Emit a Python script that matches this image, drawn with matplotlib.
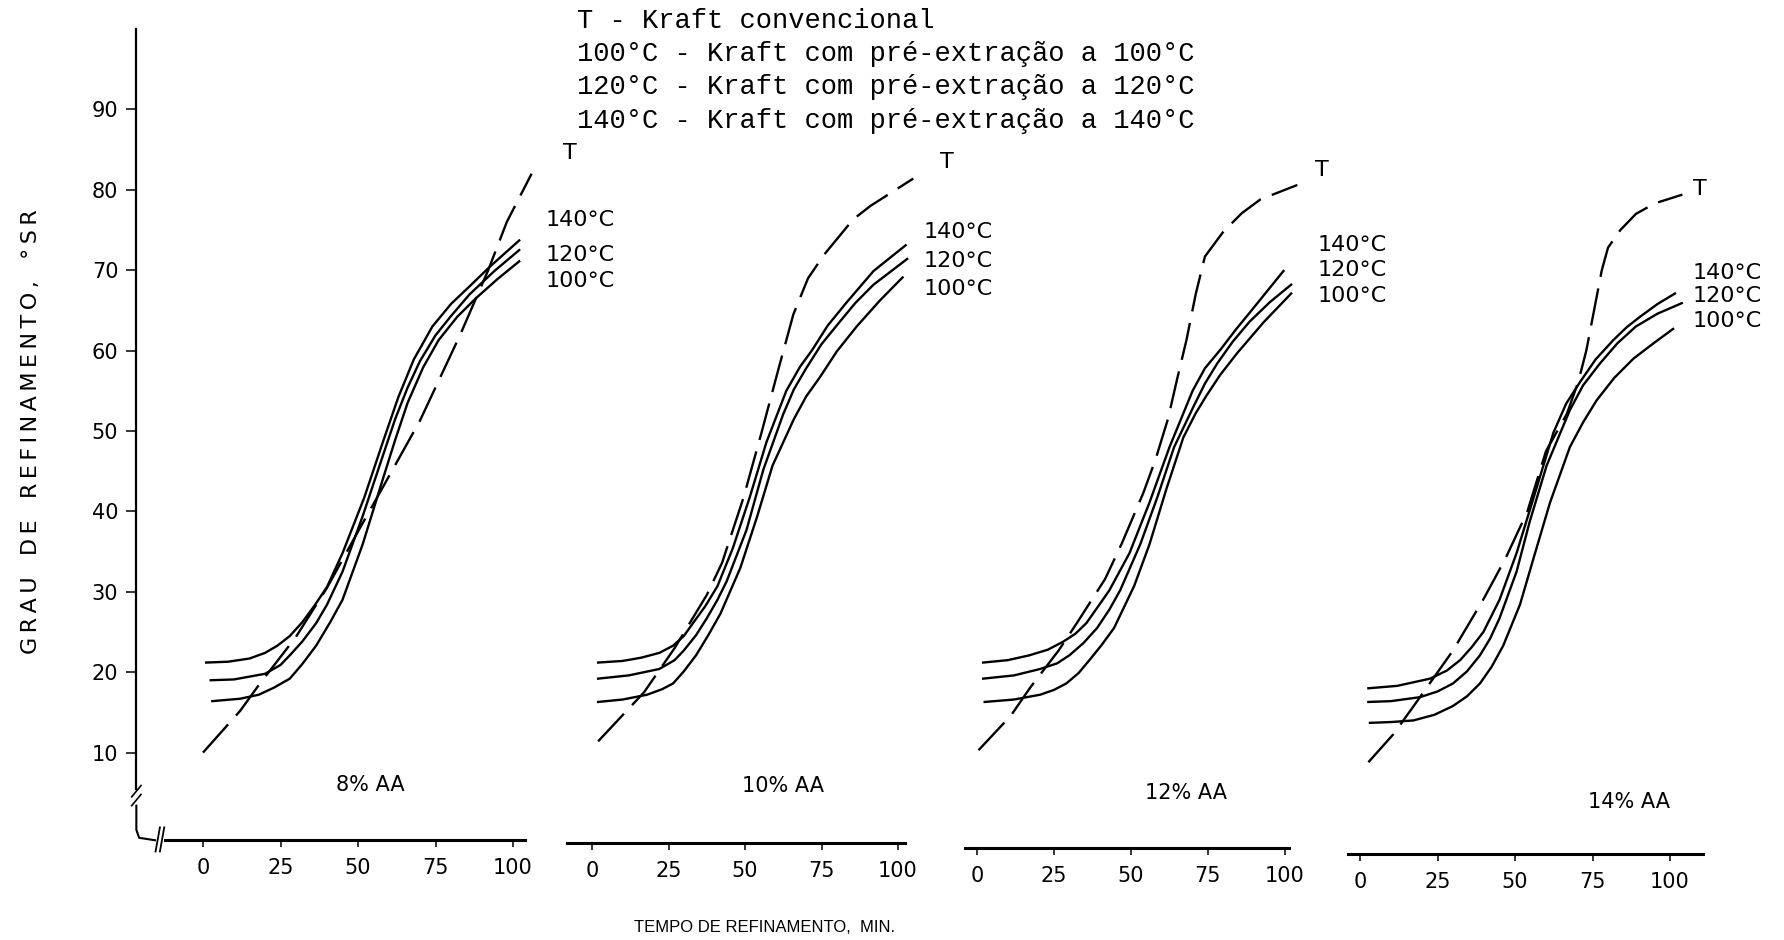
import matplotlib
matplotlib.use("Agg")
import matplotlib.pyplot as plt

# ---- data (x = tempo de refinamento, min; y = grau de refinamento, °SR)
# 8% AA
aa8_140_x = [1, 8, 15, 20, 24, 28, 32, 36, 40, 45, 52, 58, 63, 68, 74, 80, 86, 93, 102]
aa8_140_y = [21.2, 21.3, 21.7, 22.4, 23.3, 24.5, 26.2, 28.3, 30.6, 34.8, 41.7, 48.6, 54.2, 58.9, 63, 65.8, 68, 70.6, 73.7]
aa8_120_x = [2.5, 10, 20, 25, 28, 32, 36.5, 40, 45, 51.5, 58, 62, 66, 70, 75, 80, 86, 94, 102]
aa8_120_y = [19.0, 19.1, 19.8, 20.9, 22.1, 23.8, 26.1, 28.4, 32.5, 39.4, 46.9, 51.5, 55.4, 58.7, 61.9, 64.3, 67, 69.9, 72.5]
aa8_100_x = [3, 12, 18, 23, 28, 32, 36.5, 41, 45, 51.5, 58, 62, 66, 71, 76, 82, 88, 95, 102]
aa8_100_y = [16.4, 16.7, 17.2, 18.1, 19.2, 21, 23.3, 26.2, 29, 35.9, 44, 48.9, 53.5, 57.9, 61.3, 64.2, 66.5, 68.9, 71.1]
aa8_T_x = [0, 12, 18, 30, 40, 50, 58, 70, 83, 92, 98, 106]
aa8_T_y = [10, 15.2, 18.4, 24.4, 30.5, 37.5, 43, 51.3, 62, 70, 76, 82]

# 10% AA
aa10_140_x = [2, 10, 16, 22, 26.5, 30, 33, 37, 41, 46, 51.5, 57, 63.5, 68, 72, 77, 83, 92, 102.5]
aa10_140_y = [21.2, 21.4, 21.8, 22.4, 23.3, 24.5, 26.1, 28.2, 30.7, 35.4, 41.7, 48.6, 55, 58, 60.1, 63.1, 65.9, 69.9, 73.1]
aa10_120_x = [2, 12, 22, 27, 30, 34, 37.5, 41, 44, 50.5, 56, 62.5, 66, 70, 75, 81, 86, 92, 103]
aa10_120_y = [19.2, 19.6, 20.4, 21.5, 22.7, 24.6, 26.7, 29, 31.3, 37.7, 45.2, 52.1, 55.2, 57.8, 60.8, 63.6, 65.9, 68.2, 71.4]
aa10_100_x = [2, 10, 18, 23, 26.5, 30, 34, 38, 42, 48.5, 54, 59, 66, 70, 74.5, 80, 86.5, 94, 101.5]
aa10_100_y = [16.3, 16.6, 17.2, 17.9, 18.6, 20.1, 22.1, 24.6, 27.3, 33, 39.4, 45.7, 51.5, 54.3, 56.7, 59.9, 63, 66.2, 69.1]
aa10_T_x = [2, 17, 27, 37.5, 42.5, 49.5, 55.4, 61, 65.8, 70.6, 76, 85.3, 91, 105]
aa10_T_y = [11.4, 17.5, 23, 29.6, 33.6, 41.7, 49.8, 57.8, 64.5, 69, 72, 76.3, 78, 81.4]

# 12% AA
aa12_140_x = [2, 10, 17, 23, 28, 32, 35.5, 39, 43, 49.5, 56, 62.5, 70, 74, 79, 84, 88.5, 94, 99.5]
aa12_140_y = [21.2, 21.5, 22.1, 22.8, 23.8, 24.8, 26.1, 28, 30.2, 34.8, 41.1, 48, 55, 57.8, 60.1, 62.6, 64.7, 67.3, 69.9]
aa12_120_x = [2, 12, 20.5, 26, 30, 34.5, 39, 43, 46.5, 53, 58.5, 64, 70.5, 74, 78, 83, 88.5, 95, 102]
aa12_120_y = [19.2, 19.6, 20.4, 21.1, 22.1, 23.6, 25.5, 27.8, 30.2, 35.9, 41.7, 48, 53.2, 55.9, 58.4, 61.1, 63.6, 66, 68.2]
aa12_100_x = [2.5, 12, 20.5, 25, 29, 33, 36.5, 40.5, 44.5, 51, 56, 61.5, 67, 71, 74.5, 79, 84.5, 93, 102]
aa12_100_y = [16.3, 16.6, 17.2, 17.8, 18.6, 19.9, 21.5, 23.4, 25.5, 30.7, 35.9, 42.8, 49.2, 52.2, 54.4, 57, 59.7, 63.5, 67.1]
aa12_T_x = [0.5, 11, 17.3, 26.5, 32.4, 41.6, 47, 54, 58, 62, 65, 68, 71, 74, 80, 86, 92, 104]
aa12_T_y = [10.3, 14.6, 18.1, 22.7, 26.1, 31.6, 36, 42.3, 46.5, 51.5, 56.5, 61.3, 67, 71.7, 74.8, 77.1, 78.8, 80.6]

# 14% AA
aa14_140_x = [2.7, 12, 22.6, 28, 32.3, 36, 39.8, 45, 50.5, 56, 62.4, 66.5, 71, 76, 81.7, 86, 90.3, 96, 101.6]
aa14_140_y = [18, 18.3, 19.2, 20.2, 21.5, 23.1, 25, 29, 34.8, 41.7, 49.8, 53.4, 56.1, 58.9, 61.3, 62.9, 64.2, 65.8, 67.1]
aa14_120_x = [2.7, 10, 19.4, 25, 30, 34.5, 38.7, 42, 45, 50.5, 54.8, 60.2, 67.7, 72, 77.4, 83, 89, 96, 103.8]
aa14_120_y = [16.3, 16.4, 16.9, 17.6, 18.6, 20.1, 22.1, 24.2, 26.7, 32.5, 38.8, 45.7, 52.6, 55.7, 58.4, 60.9, 63, 64.6, 65.9]
aa14_100_x = [3.2, 10, 17.2, 24, 30, 34.5, 38.7, 42.5, 46.2, 51.6, 56, 61.3, 67.7, 72, 76.3, 82, 88.2, 95, 101]
aa14_100_y = [13.7, 13.8, 14, 14.7, 15.8, 17, 18.6, 20.7, 23.3, 28.4, 34.2, 41.1, 48, 51.1, 53.8, 56.6, 59, 61, 62.7]
aa14_T_x = [2.7, 10.8, 17.7, 30, 40, 47, 54, 60, 66.7, 70.4, 73, 75.5, 78, 80, 84, 89, 95, 104]
aa14_T_y = [8.8, 12.3, 16, 22.7, 29.2, 34.2, 40, 47.5, 52.1, 56.1, 60, 65, 70, 72.8, 75, 77, 78.3, 79.4]

panel_names = ["8% AA", "10% AA", "12% AA", "14% AA"]
temp_labels = ["140°C", "120°C", "100°C"]
x_ticks = [0, 25, 50, 75, 100]
y_ticks = [10, 20, 30, 40, 50, 60, 70, 80, 90]
legend_lines = [
    "T - Kraft convencional",
    "100°C - Kraft com pré-extração a 100°C",
    "120°C - Kraft com pré-extração a 120°C",
    "140°C - Kraft com pré-extração a 140°C",
]
y_words = ["GRAU", "DE", "REFINAMENTO,", "°SR"]

panels = [
    (aa8_140_x, aa8_140_y, aa8_120_x, aa8_120_y, aa8_100_x, aa8_100_y, aa8_T_x, aa8_T_y),
    (aa10_140_x, aa10_140_y, aa10_120_x, aa10_120_y, aa10_100_x, aa10_100_y, aa10_T_x, aa10_T_y),
    (aa12_140_x, aa12_140_y, aa12_120_x, aa12_120_y, aa12_100_x, aa12_100_y, aa12_T_x, aa12_T_y),
    (aa14_140_x, aa14_140_y, aa14_120_x, aa14_120_y, aa14_100_x, aa14_100_y, aa14_T_x, aa14_T_y),
]

# ---- layout (pixels of the 1784x940 page)
W, H = 1784.0, 940.0
Y_LO, Y_HI = -3, 100.5


def ypix(v):
    return 833 - 8.04 * v


bottom = (H - ypix(Y_LO)) / H
height = (ypix(Y_LO) - ypix(Y_HI)) / H

# x-origin px, px per min, xlim, baseline, T label, temp label pos, AA label pos
layout = [
    (203, 3.10, (-21.5, 104.0), -0.9, (118.5, 84.6), (110.6, [76.2, 71.9, 68.6]), (54, 6.0)),
    (592, 3.06, (-8.2, 102.3), -1.2, (116.0, 83.4), (108.5, [74.8, 71.2, 67.7]), (62.4, 5.8)),
    (977, 3.08, (-3.9, 101.3), -1.9, (112.0, 82.5), (110.7, [73.1, 70.0, 66.8]), (67.9, 5.0)),
    (1360, 3.10, (-4.0, 110.6), -2.6, (109.7, 80.1), (107.4, [69.7, 66.8, 63.7]), (86.8, 3.9)),
]

fig = plt.figure(figsize=(17.84, 9.40), dpi=100)

for i, (data, lay) in enumerate(zip(panels, layout)):
    x0, s, xl, base, tpos, tmp, aapos = lay
    left_px = x0 + s * xl[0]
    right_px = x0 + s * xl[1]
    ax = fig.add_axes([left_px / W, bottom, (right_px - left_px) / W, height])
    ax.set_xlim(*xl)
    ax.set_ylim(Y_LO, Y_HI)
    ax.patch.set_alpha(0)
    for sp in ["top", "right"]:
        ax.spines[sp].set_visible(False)
    ax.spines["bottom"].set_position(("data", base))
    ax.spines["bottom"].set_linewidth(2.2)
    ax.set_xticks(x_ticks)
    ax.tick_params(axis="x", direction="out", length=5, width=1.1, pad=8, labelsize=15)

    if i == 0:
        ax.spines["left"].set_bounds(5.5, 100)
        ax.spines["left"].set_linewidth(1.6)
        ax.spines["bottom"].set_bounds(-12.4, 104)
        ax.set_yticks(y_ticks)
        ax.tick_params(axis="y", direction="out", length=7, width=1.1, pad=6, labelsize=15)
        # broken-axis corner
        ax.plot([-21.5, -21.5, -20.6, -15.5], [3.4, 0.4, -0.6, -0.9],
                color="black", lw=1.5, clip_on=False)
        ax.plot([-15.3, -13.9], [-2.3, 0.7], color="black", lw=1.3, clip_on=False)
        ax.plot([-13.9, -12.5], [-2.3, 0.7], color="black", lw=1.3, clip_on=False)
        ax.plot([-23.0, -20.0], [3.4, 4.8], color="black", lw=1.2, clip_on=False)
        ax.plot([-23.0, -20.0], [4.5, 5.9], color="black", lw=1.2, clip_on=False)
    else:
        ax.spines["left"].set_visible(False)
        ax.tick_params(axis="y", left=False, labelleft=False)

    x140, y140, x120, y120, x100, y100, xT, yT = data
    for xs, ys in [(x140, y140), (x120, y120), (x100, y100)]:
        ax.plot(xs, ys, color="black", lw=1.7, clip_on=False)
    ax.plot(xT, yT, color="black", lw=1.7, dashes=(16, 5), clip_on=False)

    ax.text(tpos[0], tpos[1], "T", fontsize=16, ha="center", va="center", clip_on=False)
    for lab, ty in zip(temp_labels, tmp[1]):
        ax.text(tmp[0], ty, lab, fontsize=16, ha="left", va="center", clip_on=False)
    ax.text(aapos[0], aapos[1], panel_names[i], fontsize=15, ha="center", va="center")

# letter-spaced y label, as in the typed original
ylab = "   ".join("\u2009".join(w) for w in y_words)
fig.text(31 / W, 1 - 432 / H, ylab, rotation=90, ha="center", va="center", fontsize=16)
fig.text(765 / W, 1 - 927 / H, "TEMPO DE REFINAMENTO,  MIN.", ha="center", va="center",
         fontsize=12, family="Liberation Sans")

for k, line in enumerate(legend_lines):
    fig.text(577 / W, 1 - (20.5 + 33.4 * k) / H, line, family="Liberation Mono",
             fontsize=19.5, ha="left", va="center")

fig.savefig("out.png", dpi=100, facecolor="white")
